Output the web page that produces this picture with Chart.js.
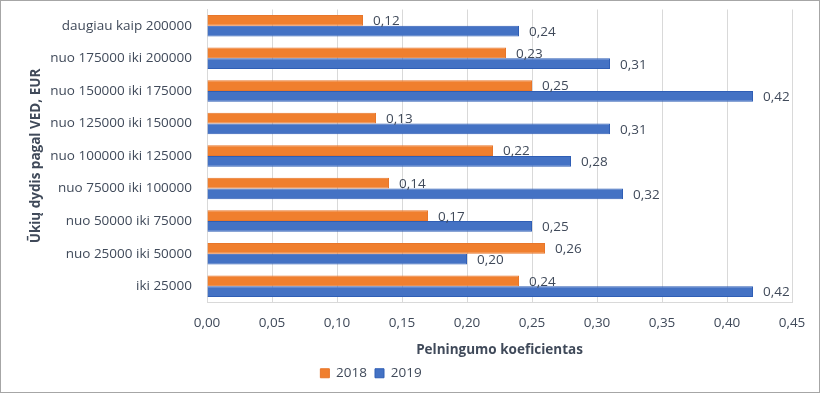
<!DOCTYPE html>
<html>
<head>
<meta charset="utf-8">
<script src="https://cdn.jsdelivr.net/npm/chart.js@4/dist/chart.umd.min.js"></script>
<style>
html,body{margin:0;padding:0;background:#fff;}
canvas{display:block;}
</style>
</head>
<body>
<canvas id="c" width="820" height="393"></canvas>
<script>
const categories = [
  "daugiau kaip 200000",
  "nuo 175000 iki 200000",
  "nuo 150000 iki 175000",
  "nuo 125000 iki 150000",
  "nuo 100000 iki 125000",
  "nuo 75000 iki 100000",
  "nuo 50000 iki 75000",
  "nuo 25000 iki 50000",
  "iki 25000"
];
const values2018 = [0.12, 0.23, 0.25, 0.13, 0.22, 0.14, 0.17, 0.26, 0.24];
const values2019 = [0.24, 0.31, 0.42, 0.31, 0.28, 0.32, 0.25, 0.20, 0.42];
const seriesNames = ["2018", "2019"];
const xTicksMin = 0, xTicksMax = 0.45, xTicksStep = 0.05;

const TXT = '#404a5a';
const FONT = "'Open Sans', sans-serif";
const FS = 13.5;
const fmt = v => Number(v).toFixed(2).replace('.', ',');

const labelPlugin = {
  id: 'valueLabels',
  afterDatasetsDraw(chart) {
    const ctx = chart.ctx;
    ctx.save();
    ctx.font = FS + "px " + FONT;
    ctx.fillStyle = TXT;
    ctx.textAlign = 'left';
    ctx.textBaseline = 'middle';
    chart.data.datasets.forEach((ds, di) => {
      const meta = chart.getDatasetMeta(di);
      meta.data.forEach((el, i) => {
        ctx.fillText(fmt(ds.data[i]), el.x + 10, el.y + 1);
      });
    });
    ctx.restore();
  }
};
const borderPlugin = {
  id: 'outerBorder',
  afterDraw(chart) {
    const ctx = chart.ctx;
    ctx.save();
    ctx.strokeStyle = '#a6a6a6';
    ctx.lineWidth = 1;
    ctx.strokeRect(0.5, 0.5, chart.width - 1, chart.height - 1);
    ctx.restore();
  }
};
const legendShift = {
  id: 'legendShift',
  afterLayout(chart) {
    if (chart.legend) { chart.legend.left -= 25; chart.legend.right -= 25; }
  }
};

new Chart(document.getElementById('c'), {
  type: 'bar',
  data: {
    labels: categories,
    datasets: [
      { label: seriesNames[0], data: values2018, backgroundColor: '#f07f2e', borderColor: '#e8762a', borderWidth: 1 },
      { label: seriesNames[1], data: values2019, backgroundColor: '#4472c4', borderColor: '#2f5eb5', borderWidth: 1 }
    ]
  },
  options: {
    indexAxis: 'y',
    responsive: false,
    animation: false,
    devicePixelRatio: 1,
    layout: { padding: { left: 0, right: 28, top: 9.5, bottom: 3 } },
    datasets: { bar: { categoryPercentage: 0.66, barPercentage: 1.0 } },
    scales: {
      x: {
        min: xTicksMin, max: xTicksMax,
        ticks: {
          stepSize: xTicksStep, color: TXT, font: { family: FONT, size: FS }, padding: 13,
          callback: v => fmt(v)
        },
        grid: { color: '#d9d9d9', drawTicks: false },
        border: { display: true, color: '#d9d9d9' },
        title: { display: true, text: 'Pelningumo koeficientas', color: TXT,
                 font: { family: FONT, size: FS, weight: 'bold' }, padding: { top: 4, bottom: 0 } },
        afterFit(s) { s.height = 56; s.paddingLeft = 0; s.paddingRight = 0; }
      },
      y: {
        ticks: { color: TXT, font: { family: FONT, size: FS }, padding: 15 },
        grid: { display: false, drawTicks: false },
        border: { display: true, color: '#d9d9d9' },
        title: { display: true, text: 'Ūkių dydis pagal VED, EUR', color: TXT,
                 font: { family: FONT, size: FS, weight: 'bold' }, padding: { top: 28, bottom: 0 } },
        afterFit(s) { s.width = 207; s.paddingTop = 0; s.paddingBottom = 0; }
      }
    },
    plugins: {
      legend: {
        position: 'bottom',
        labels: { boxWidth: 9, boxHeight: 9, color: TXT, font: { family: FONT, size: FS }, padding: 8 }
      },
      tooltip: { enabled: false }
    }
  },
  plugins: [labelPlugin, borderPlugin, legendShift]
});
</script>
</body>
</html>
